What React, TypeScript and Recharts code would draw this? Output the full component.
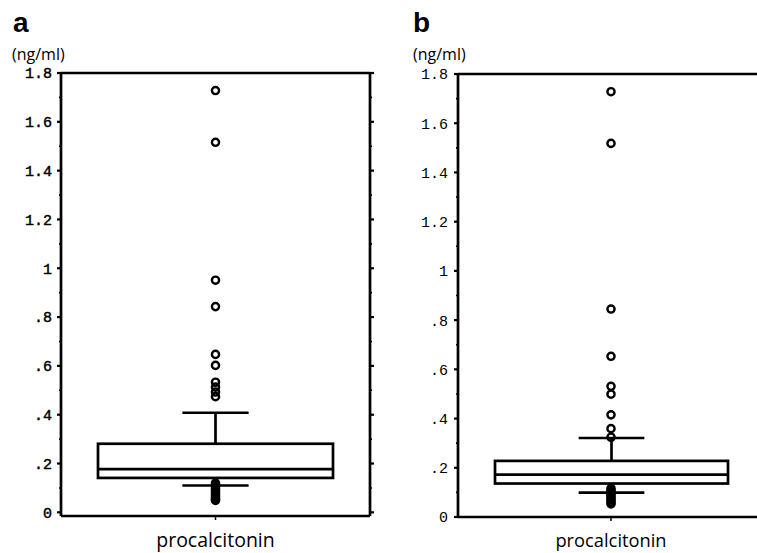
import React from 'react';
import { ComposedChart, Bar, Scatter, XAxis, YAxis, ReferenceLine } from 'recharts';

const CATEGORY = 'procalcitonin';

// tick values (0.1 steps; majors every 0.2 carry labels)
const Y_TICKS = [0, 0.1, 0.2, 0.3, 0.4, 0.5, 0.6, 0.7, 0.8, 0.9, 1, 1.1, 1.2, 1.3, 1.4, 1.5, 1.6, 1.7, 1.8];

// panel a
const statsA = [{ name: CATEGORY, lowerWhisker: 0.11, q1: 0.141, median: 0.177, q3: 0.281, upperWhisker: 0.408 }];
const outliersA = [1.728, 1.516, 0.951, 0.843, 0.647, 0.602, 0.533, 0.513, 0.493, 0.474,
  0.12, 0.112, 0.104, 0.096, 0.088, 0.08, 0.072, 0.065, 0.058, 0.052, 0.049];

// panel b
const statsB = [{ name: CATEGORY, lowerWhisker: 0.099, q1: 0.136, median: 0.172, q3: 0.228, upperWhisker: 0.321 }];
const outliersB = [1.728, 1.518, 0.845, 0.653, 0.531, 0.499, 0.415, 0.359, 0.324,
  0.116, 0.108, 0.1, 0.092, 0.084, 0.076, 0.068, 0.06, 0.053];

const toPoints = (vals: number[]) => vals.map((v) => ({ name: CATEGORY, value: v }));

const fmt = (v: number) => {
  if (v === 0) return '0';
  if (Number.isInteger(v)) return String(v);
  if (v < 1) return v.toFixed(1).slice(1);
  return v.toFixed(1);
};

const makeYTick = (side: 'left' | 'right', showLabel: boolean, gap: number, heavy: boolean) => (props: any) => {
  const { x, y, payload } = props;
  const v = payload.value as number;
  const major = Math.round(v * 10) % 2 === 0;
  const len = major ? 4 : 2;
  const dir = side === 'left' ? -1 : 1;
  return (
    <g>
      <line x1={x} x2={x + dir * len} y1={y} y2={y} stroke="#000" strokeWidth={major ? 2.2 : 1.6} />
      {showLabel && major && (
        <text
          x={x - gap}
          y={y}
          dy="0.36em"
          textAnchor="end"
          fontFamily="'Liberation Mono', monospace"
          fontSize={15}
          fill="#000"
          stroke={heavy ? '#000' : 'none'}
          strokeWidth={heavy ? 0.45 : 0}
        >
          {fmt(v)}
        </text>
      )}
    </g>
  );
};

const BoxShape = (props: any) => {
  const { x, y, width, height, payload } = props;
  const lo = payload.lowerWhisker;
  const hi = payload.upperWhisker;
  const py = (v: number) => y + (height * (hi - v)) / (hi - lo);
  const cx = x + width / 2;
  const cap = width * 0.282;
  const sw = 2.7;
  return (
    <g stroke="#000" strokeWidth={sw}>
      <line x1={cx} x2={cx} y1={py(hi)} y2={py(payload.q3)} />
      <line x1={cx - cap / 2} x2={cx + cap / 2} y1={py(hi)} y2={py(hi)} />
      <line x1={cx} x2={cx} y1={py(payload.q1)} y2={py(lo)} />
      <line x1={cx - cap / 2} x2={cx + cap / 2} y1={py(lo)} y2={py(lo)} />
      <rect x={x} y={py(payload.q3)} width={width} height={py(payload.q1) - py(payload.q3)} fill="#fff" />
      <line x1={x} x2={x + width} y1={py(payload.median)} y2={py(payload.median)} />
    </g>
  );
};

const Ring = (props: any) => (
  <circle cx={props.cx} cy={props.cy} r={3.6} fill="none" stroke="#000" strokeWidth={2.4} />
);

const AXIS_W = 2.7;

function Panel(props: {
  stats: any[];
  outliers: number[];
  width: number;
  top: number;
  leftW: number;
  rightW: number;
  xH: number;
  domainMin: number;
  barSize: number;
  labelGap: number;
  xFont: number;
  right: boolean;
  heavy: boolean;
}) {
  const { stats, outliers, width, top, leftW, rightW, xH, domainMin, barSize, labelGap, xFont, right, heavy } = props;
  return (
    <ComposedChart width={width} height={553} data={stats} margin={{ top, right: 0, bottom: 0, left: 0 }}>
      <XAxis
        dataKey="name"
        type="category"
        allowDuplicatedCategory={false}
        height={xH}
        axisLine={{ stroke: '#000', strokeWidth: AXIS_W }}
        tickLine={{ stroke: '#000', strokeWidth: 1.5 }}
        tickSize={4}
        tickMargin={13}
        tick={{ fill: '#000', fontFamily: "'Open Sans', sans-serif", fontSize: xFont }}
      />
      <YAxis
        yAxisId="l"
        orientation="left"
        width={leftW}
        type="number"
        domain={[domainMin, 1.8]}
        allowDataOverflow
        ticks={Y_TICKS}
        interval={0}
        tickSize={0}
        tickMargin={0}
        tickLine={false}
        axisLine={{ stroke: '#000', strokeWidth: AXIS_W }}
        tick={makeYTick('left', true, labelGap, heavy)}
      />
      {right && (
        <YAxis
          yAxisId="r"
          orientation="right"
          width={rightW}
          type="number"
          domain={[domainMin, 1.8]}
          allowDataOverflow
          ticks={Y_TICKS}
          interval={0}
          tickSize={0}
          tickMargin={0}
          tickLine={false}
          axisLine={{ stroke: '#000', strokeWidth: AXIS_W }}
          tick={makeYTick('right', false, 0, false)}
        />
      )}
      <ReferenceLine yAxisId="l" y={1.8} stroke="#000" strokeWidth={AXIS_W} />
      <Bar
        yAxisId="l"
        dataKey={(d: any) => [d.lowerWhisker, d.upperWhisker]}
        barSize={barSize}
        shape={BoxShape}
        isAnimationActive={false}
      />
      <Scatter yAxisId="l" data={toPoints(outliers)} dataKey="value" shape={Ring} isAnimationActive={false} />
    </ComposedChart>
  );
}

export default function App() {
  return (
    <div style={{ position: 'absolute', left: 0, top: 0, width: 757, height: 553, overflow: 'hidden', background: '#fff' }}>
      <div style={{ position: 'absolute', left: 0, top: 0 }}>
        <Panel
          stats={statsA}
          outliers={outliersA}
          width={380}
          top={73}
          leftW={61}
          rightW={10}
          xH={37}
          domainMin={-0.015}
          barSize={235}
          labelGap={9}
          xFont={19.5}
          right={true}
          heavy={true}
        />
      </div>
      <div style={{ position: 'absolute', left: 380, top: 0 }}>
        <Panel
          stats={statsB}
          outliers={outliersB}
          width={384}
          top={74}
          leftW={78}
          rightW={0}
          xH={36}
          domainMin={0}
          barSize={233}
          labelGap={10}
          xFont={18.3}
          right={false}
          heavy={false}
        />
      </div>
      <svg width={757} height={80} style={{ position: 'absolute', left: 0, top: 0, pointerEvents: 'none' }}>
        <text x={13} y={31.5} fontFamily="'Liberation Sans', Arial, sans-serif" fontWeight="bold" fontSize={28} fill="#000">a</text>
        <text x={413} y={31.5} fontFamily="'Liberation Sans', Arial, sans-serif" fontWeight="bold" fontSize={28} fill="#000">b</text>
        <text x={12} y={60} fontFamily="'Open Sans', sans-serif" fontSize={16} fill="#000">(ng/ml)</text>
        <text x={413} y={60} fontFamily="'Open Sans', sans-serif" fontSize={16} fill="#000">(ng/ml)</text>
      </svg>
    </div>
  );
}
